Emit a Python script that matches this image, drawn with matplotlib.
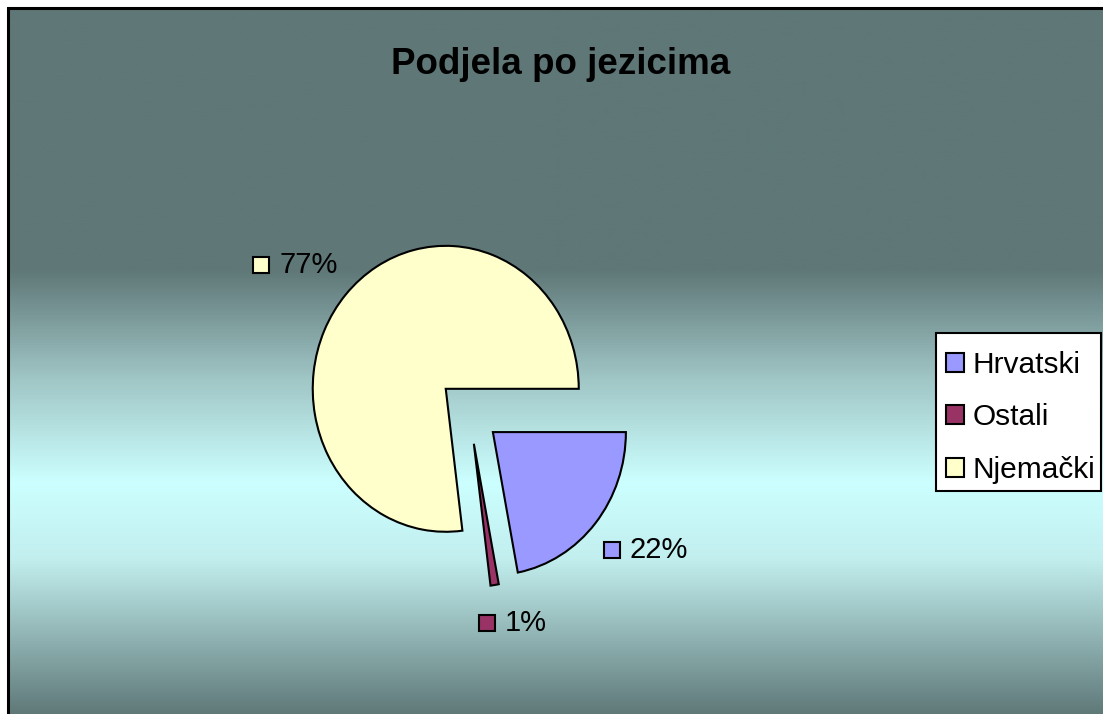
import numpy as np
import matplotlib.pyplot as plt
from matplotlib.colors import LinearSegmentedColormap
from matplotlib.patches import Rectangle

plt.rcParams['font.family'] = ['Liberation Sans', 'DejaVu Sans']

## data
languages = ['Hrvatski', 'Ostali', 'Njemački']
shares = [22, 1, 77]
share_labels = ['22%', '1%', '77%']
colors = ['#9999FF', '#993366', '#FFFFCC']

W, H = 1103, 714
SY = 1.075   # the pie is a little taller than wide in the original

fig = plt.figure(figsize=(W / 100, H / 100), dpi=100)
fig.patch.set_facecolor('white')

## background gradient (dark top, light cyan band, dark bottom)
bax = fig.add_axes([0, 0, 1, 1])
bax.set_xlim(0, W)
bax.set_ylim(0, H)
bax.axis('off')
bg = LinearSegmentedColormap.from_list('bg', [
    (0.0, '#5F7777'), (0.37, '#5F7777'), (0.52, '#9FC4C4'),
    (0.67, '#CCFFFF'), (0.78, '#C2EEEE'), (1.0, '#5F7878')])
grad = np.linspace(0, 1, 512).reshape(-1, 1)
bax.imshow(grad, cmap=bg, aspect='auto', extent=(8, W + 5, -2, H - 8), origin='upper', zorder=0)
bax.add_patch(Rectangle((8, -5), W, H - 8 + 5, fill=False, ec='black', lw=2.2, zorder=1))
bax.text(561, H - 65, 'Podjela po jezicima', ha='center', va='center',
         fontsize=26.5, fontweight='bold', zorder=5)
# legend box
bax.add_patch(Rectangle((936, H - 491), 165, 158, fc='white', ec='black', lw=1.5, zorder=2))

## pie
ax = fig.add_axes([0, 0, 1, 1])
ax.patch.set_alpha(0)
wedges, _ = ax.pie(shares, colors=colors, startangle=0, counterclock=False,
                   center=(469, 282), radius=133, explode=[31, 31, 31],
                   wedgeprops=dict(edgecolor='black', linewidth=1.5), frame=True)
ax.set_aspect('auto')
ax.set_xlim(0, W)
ax.set_ylim(0, H / SY)
ax.axis('off')

## data labels with a colour key in front, placed outside each wedge
fig.canvas.draw()
rend = fig.canvas.get_renderer()
inv = ax.transData.inverted()
for w, lab, c in zip(wedges, share_labels, colors):
    tm = np.deg2rad((w.theta1 + w.theta2) / 2 + 4)
    ux, uy = np.cos(tm), np.sin(tm)
    t = ax.text(0, 0, lab, ha='left', va='center', fontsize=21, zorder=5)
    tw = t.get_window_extent(rend).width
    half_w = (tw + 26.5) / 2
    ext = min(half_w / max(abs(ux), 1e-6), 34 / max(abs(uy), 1e-6))
    cx, cy = ax.transData.transform(w.center)
    dist = w.r + 3 + ext
    bx = cx + dist * ux
    by = cy + dist * uy * SY
    t.set_position(inv.transform((bx - half_w + 26.5, by)))
    mx, my = inv.transform((bx - half_w + 8.5, by))
    ax.plot(mx, my, marker='s', ms=12, mfc=c, mec='black', mew=1.5, zorder=5)

leg = ax.legend(wedges, languages, loc='upper left',
                bbox_to_anchor=(946 / W, 1 - 351 / H), bbox_transform=fig.transFigure,
                fontsize=21.5, frameon=False, borderpad=0, labelspacing=0.82,
                handlelength=0.6, handleheight=0.6, handletextpad=0.3,
                borderaxespad=0)

fig.savefig('out.png', dpi=100, facecolor='white')
